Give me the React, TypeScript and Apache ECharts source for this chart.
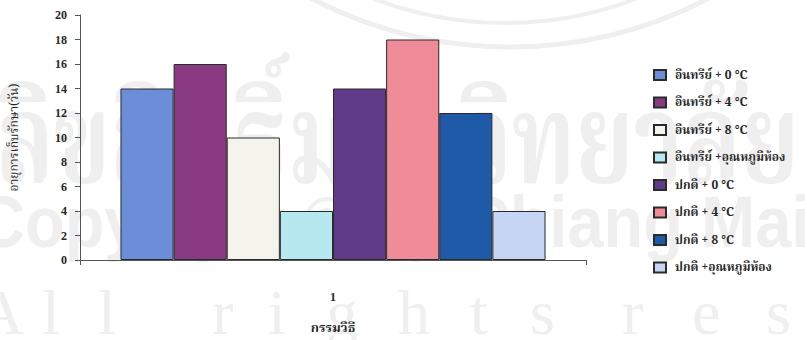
import React, { useEffect, useRef } from "react";
import * as echarts from "echarts";

// Treatment group on the x axis
const categories = ["1"];

// Storage treatments (legend order) and shelf life in days
const seriesNames = [
  "อินทรีย์ + 0 °C",
  "อินทรีย์ + 4 °C",
  "อินทรีย์ + 8 °C",
  "อินทรีย์ +อุณหภูมิห้อง",
  "ปกติ + 0 °C",
  "ปกติ + 4 °C",
  "ปกติ + 8 °C",
  "ปกติ +อุณหภูมิห้อง",
];
const shelfLifeDays = [14, 16, 10, 4, 14, 18, 12, 4];

// Y axis range
const yMin = 0;
const yMax = 20;
const yStep = 2;

const palette = [
  "#6c8ed8",
  "#8a3a80",
  "#f4f4ec",
  "#b6e8f0",
  "#5e3a88",
  "#f08c98",
  "#1f5aa8",
  "#c6d5f3",
];

const THAI_FONT =
  "'Noto Serif Thai', 'Noto Sans Thai', Garuda, Norasi, Loma, 'Tlwg Typo', 'DejaVu Serif', serif";
const WM = "#efefef";

// Background copyright stamp, last line drawn letter by letter for wide tracking
const stampLetters = "Allrightsres".split("");
const stampLetterX = [-22, 42, 98, 212, 268, 326, 398, 470, 530, 622, 692, 766];

export default function App() {
  const ref = useRef<HTMLDivElement>(null);

  useEffect(() => {
    if (!ref.current) return;
    const chart = echarts.init(ref.current, undefined, { renderer: "svg" });

    const series = seriesNames.map((name, i) => ({
      name,
      type: "bar" as const,
      data: [shelfLifeDays[i]],
      barGap: "0%",
      barCategoryGap: "16%",
      itemStyle: {
        color: palette[i],
        borderColor: "#2a2a2a",
        borderWidth: 1,
      },
      z: 2,
    }));

    const stamp: any[] = [
      {
        type: "arc",
        silent: true,
        z: -10,
        shape: { cx: 510, cy: -383, r: 430, startAngle: Math.PI * 0.2, endAngle: Math.PI * 0.8 },
        style: { stroke: WM, lineWidth: 5, fill: "none" },
      },
      {
        type: "arc",
        silent: true,
        z: -10,
        shape: { cx: 505, cy: -344, r: 367, startAngle: Math.PI * 0.25, endAngle: Math.PI * 0.75 },
        style: { stroke: WM, lineWidth: 4, fill: "none" },
      },
      {
        type: "text",
        silent: true,
        z: -10,
        x: -4,
        y: 86,
        scaleY: 1.35,
        style: {
          text: "ลิขสิทธิ์มหาวิทยาลัยเชียงใหม่",
          fill: WM,
          font: `bold 94px ${THAI_FONT}`,
          verticalAlign: "top",
        },
      },
      {
        type: "text",
        silent: true,
        z: -10,
        x: -22,
        y: 186,
        scaleY: 1.1,
        style: {
          text: "Copyright © by Chiang Mai University",
          fill: WM,
          font: "bold 65px 'Liberation Sans', sans-serif",
          verticalAlign: "top",
        },
      },
      ...stampLetters.map((ch, i) => ({
        type: "text",
        silent: true,
        z: -10,
        x: stampLetterX[i],
        y: 280,
        style: {
          text: ch,
          fill: WM,
          font: "64px 'Liberation Serif', serif",
          verticalAlign: "top",
        },
      })),
    ];

    chart.setOption({
      animation: false,
      backgroundColor: "#ffffff",
      graphic: stamp,
      legend: {
        orient: "vertical",
        left: 648,
        top: 63,
        itemWidth: 12,
        itemHeight: 10,
        itemGap: 13.5,
        icon: "rect",
        textStyle: {
          fontFamily: THAI_FONT,
          fontSize: 12,
          fontWeight: "bold",
          color: "#262626",
          lineHeight: 14,
          padding: [0, 0, 0, 4],
        },
        data: seriesNames,
      },
      grid: {
        left: 80,
        top: 15,
        right: 221,
        bottom: 72,
        containLabel: false,
      },
      xAxis: {
        type: "category",
        data: categories,
        boundaryGap: true,
        name: "กรรมวิธี",
        nameLocation: "middle",
        nameGap: 62,
        nameTextStyle: {
          fontFamily: THAI_FONT,
          fontSize: 13,
          fontWeight: "bold",
          color: "#262626",
        },
        axisLine: { lineStyle: { color: "#555555", width: 1 } },
        axisTick: { show: true, length: 5, lineStyle: { color: "#555555" } },
        axisLabel: {
          margin: 31,
          fontFamily: "'Liberation Serif', serif",
          fontSize: 12,
          fontWeight: "bold",
          color: "#262626",
        },
      },
      yAxis: {
        type: "value",
        min: yMin,
        max: yMax,
        interval: yStep,
        name: "อายุการเก็บรักษา(วัน)",
        nameLocation: "middle",
        nameGap: 60,
        nameRotate: 90,
        nameTextStyle: {
          fontFamily: THAI_FONT,
          fontSize: 12,
          color: "#262626",
        },
        splitLine: { show: false },
        axisLine: { show: true, lineStyle: { color: "#555555", width: 1 } },
        axisTick: { show: true, length: 5, lineStyle: { color: "#555555" } },
        axisLabel: {
          margin: 13,
          fontFamily: "'Liberation Serif', serif",
          fontSize: 12,
          fontWeight: "bold",
          color: "#262626",
        },
      },
      series,
    });

    return () => chart.dispose();
  }, []);

  return (
    <div
      ref={ref}
      style={{ position: "fixed", left: 0, top: 0, width: 807, height: 340, background: "#fff" }}
    />
  );
}
